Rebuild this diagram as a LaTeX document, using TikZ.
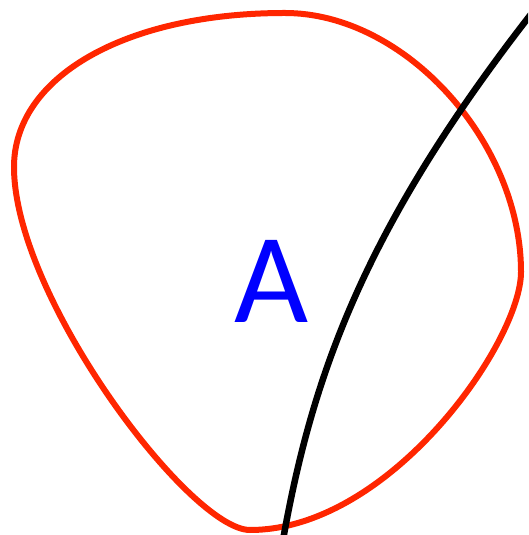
\documentclass[tikz,border=0pt]{standalone}
\usepackage{fontspec}
\newfontfamily\labelfont{Carlito}
\definecolor{setred}{RGB}{255,38,0}
\definecolor{setblue}{RGB}{0,0,255}

\begin{document}
\begin{tikzpicture}[x=1pt,y=1pt,
    setline/.style={line width=6pt,setred},
    cutline/.style={line width=6.5pt,black},
    setlabel/.style={inner sep=0pt,anchor=base,text=setblue,font=\labelfont\fontsize{128}{128}\selectfont}]
        \useasboundingbox (0,0) rectangle (528,535);
        \clip (0,0) rectangle (528,535);
        % the set
        \coordinate (top) at (285,522);
        \coordinate (right) at (521,263);
        \coordinate (bottom) at (250,5);
        \coordinate (left) at (14,368);
        \draw [setline] (top) .. controls (405,522) and (521,393) .. (right)
            .. controls (521,193) and (390,5) .. (bottom)
            .. controls (190,5) and (14,238) .. (left)
            .. controls (14,458) and (125,522) .. (top) -- cycle;
        % the cutting curve
        \coordinate (cutstart) at (283,-5);
        \coordinate (cutend) at (535,526);
        \draw [cutline] (cutstart) .. controls (313,163) and (366,310) .. (cutend);
        \node [setlabel] (A) at (272,212) {A};
    \end{tikzpicture}
\end{document}
